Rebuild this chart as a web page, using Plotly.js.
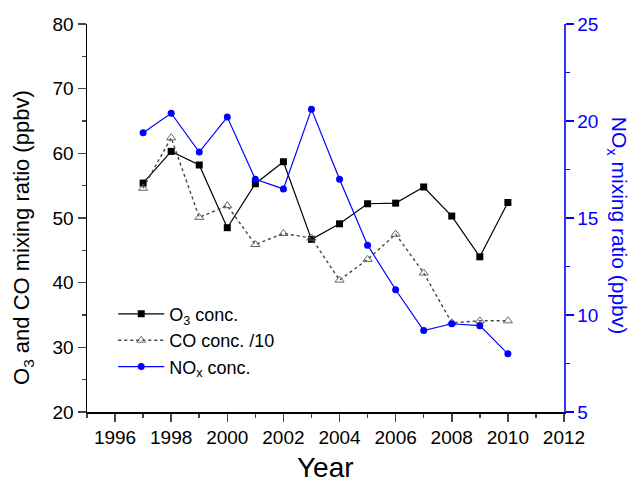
<!DOCTYPE html>
<html>
<head>
<meta charset="utf-8">
<script src="https://cdn.plot.ly/plotly-3.0.1.min.js"></script>
<style>
  html, body { margin: 0; padding: 0; background: #fff; }
  #chart { width: 635px; height: 485px; }
</style>
</head>
<body>
<div id="chart"></div>
<script>
// Values
const years = [1997, 1998, 1999, 2000, 2001, 2002, 2003, 2004, 2005, 2006, 2007, 2008, 2009, 2010];
const o3Conc = [55.4, 60.3, 58.2, 48.5, 55.3, 58.7, 46.7, 49.1, 52.2, 52.3, 54.8, 50.3, 44.0, 52.4];
const coConc10 = [54.6, 62.4, 50.1, 51.9, 45.9, 47.6, 46.9, 40.4, 43.6, 47.5, 41.5, 33.8, 34.1, 34.1];
const noxConc = [19.4, 20.4, 18.4, 20.2, 17.0, 16.5, 20.6, 17.0, 13.6, 11.3, 9.2, 9.55, 9.45, 8.0];

const font = 'Arial, "Liberation Sans", sans-serif';
const blue = '#0000ff';

// Traces
const o3Trace = {
  x: years,
  y: o3Conc,
  name: 'O<sub>3</sub> conc.',
  mode: 'lines+markers',
  line: { color: '#000000', width: 1.2 },
  marker: { symbol: 'square', size: 7, color: '#000000' },
  type: 'scatter',
};

const coTrace = {
  x: years,
  y: coConc10,
  name: 'CO conc. /10',
  mode: 'lines+markers',
  line: { color: '#444444', width: 1.4, dash: 'dot' },
  marker: { symbol: 'triangle-up-open', size: 8, color: '#666666', line: { width: 1 } },
  type: 'scatter',
};

const noxTrace = {
  x: years,
  y: noxConc,
  name: 'NO<sub>x</sub> conc.',
  mode: 'lines+markers',
  line: { color: blue, width: 1.2 },
  marker: { symbol: 'circle', size: 7, color: blue },
  yaxis: 'y2',
  type: 'scatter',
};

const layout = {
  width: 635,
  height: 485,
  margin: { l: 87, r: 71, t: 24, b: 73 },
  paper_bgcolor: '#ffffff',
  plot_bgcolor: '#ffffff',
  font: { family: font, size: 19, color: '#000000' },
  showlegend: true,
  legend: {
    x: 0.055,
    y: 0.3,
    xanchor: 'left',
    yanchor: 'top',
    bgcolor: 'rgba(0,0,0,0)',
    borderwidth: 0,
    itemwidth: 46,
    tracegroupgap: 0,
    font: { family: font, size: 18, color: '#000000' },
  },
  xaxis: {
    range: [1995, 2012],
    tickmode: 'linear',
    tick0: 1996,
    dtick: 2,
    ticks: 'outside',
    ticklen: 8,
    tickwidth: 1.5,
    minor: { dtick: 1, tick0: 1995, ticks: 'outside', ticklen: 4, tickwidth: 1.5 },
    showgrid: false,
    zeroline: false,
    showline: true,
    linecolor: '#000000',
    linewidth: 1.5,
    tickfont: { family: font, size: 19 },
  },
  xaxis2: {
    overlaying: 'x',
    side: 'top',
    anchor: 'y',
    range: [1995, 2012],
    tickmode: 'linear',
    tick0: 1995,
    dtick: 1,
    ticks: 'inside',
    ticklen: 7,
    tickwidth: 1.5,
    showticklabels: false,
    showgrid: false,
    zeroline: false,
    showline: true,
    linecolor: '#000000',
    linewidth: 1.5,
  },
  yaxis: {
    range: [20, 80],
    tickmode: 'linear',
    tick0: 20,
    dtick: 10,
    ticks: 'outside',
    ticklen: 8,
    tickwidth: 1.5,
    minor: { dtick: 5, ticks: 'outside', ticklen: 4, tickwidth: 1.5 },
    showgrid: false,
    zeroline: false,
    showline: true,
    linecolor: '#000000',
    linewidth: 1.5,
    tickfont: { family: font, size: 19 },
  },
  yaxis2: {
    overlaying: 'y',
    side: 'right',
    range: [5, 25],
    tickmode: 'linear',
    tick0: 5,
    dtick: 5,
    ticks: 'outside',
    ticklen: 8,
    tickwidth: 1.5,
    tickcolor: blue,
    minor: { dtick: 2.5, ticks: 'outside', ticklen: 4, tickwidth: 1.5, tickcolor: blue },
    showgrid: false,
    zeroline: false,
    showline: true,
    linecolor: '#3333ff',
    linewidth: 1.5,
    tickfont: { family: font, size: 19, color: blue },
  },
  annotations: [
    {
      text: 'O<sub>3</sub> and CO mixing ratio (ppbv)',
      xref: 'paper', yref: 'paper',
      x: -0.133, y: 0.45,
      xanchor: 'center', yanchor: 'middle',
      textangle: -90,
      showarrow: false,
      font: { family: font, size: 22, color: '#000000' },
    },
    {
      text: 'NO<sub>x</sub> mixing ratio (ppbv)',
      xref: 'paper', yref: 'paper',
      x: 1.113, y: 0.48,
      xanchor: 'center', yanchor: 'middle',
      textangle: 90,
      showarrow: false,
      font: { family: font, size: 21, color: blue },
    },
    {
      text: 'Year',
      xref: 'paper', yref: 'paper',
      x: 0.5, y: -0.142,
      xanchor: 'center', yanchor: 'middle',
      showarrow: false,
      font: { family: font, size: 28, color: '#000000' },
    },
  ],
};

const config = { staticPlot: true, displayModeBar: false };

Plotly.newPlot('chart', [o3Trace, coTrace, noxTrace], layout, config);
</script>
</body>
</html>
